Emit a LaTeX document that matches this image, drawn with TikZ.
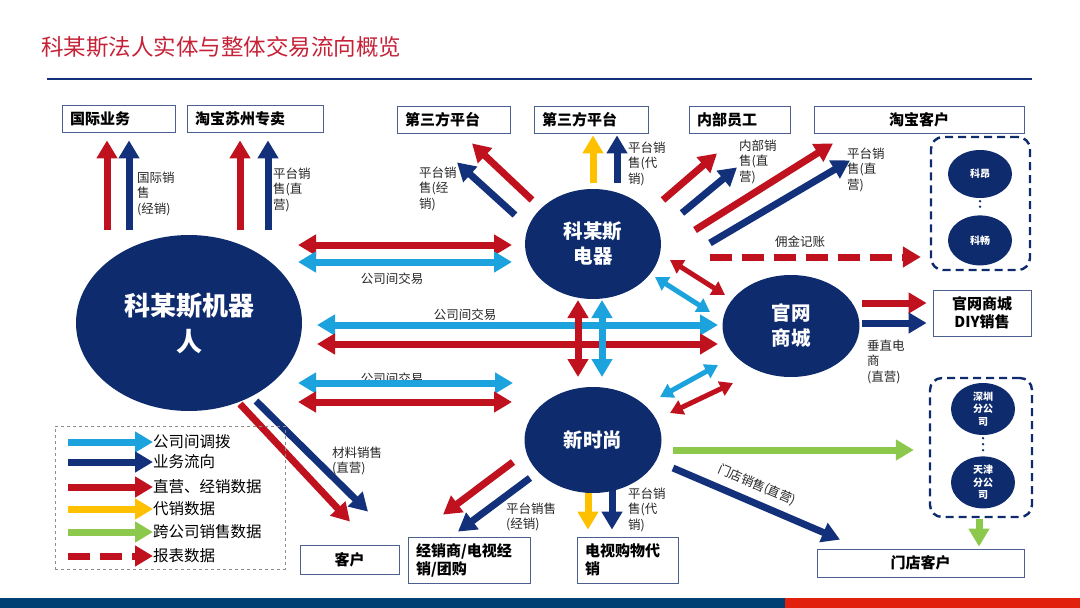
\documentclass[tikz,border=0pt]{standalone}
\usepackage{fontspec}
\setmainfont{Noto Sans CJK SC}
\usepackage{xcolor}
\usepackage{tikz}
\usetikzlibrary{positioning,arrows.meta,shapes.geometric,backgrounds}
\definecolor{rd}{HTML}{C0121E}
\definecolor{nv}{HTML}{13307A}
\definecolor{sk}{HTML}{1CA2DC}
\definecolor{yl}{HTML}{FFC000}
\definecolor{gn}{HTML}{8CC84B}
\definecolor{ell}{HTML}{0E2B6E}
\definecolor{bxc}{HTML}{4C5F8E}
\definecolor{ttl}{HTML}{C52238}
\definecolor{barb}{HTML}{003F72}
\definecolor{barr}{HTML}{E2200E}

\begin{document}
\begin{tikzpicture}[x=1pt,y=-1pt,>={Triangle[width=20pt,length=18pt]},font=\fontsize{12.5}{15.5}\selectfont]
\tikzstyle{bx}=[draw=bxc,line width=0.8pt,fill=white,minimum height=27pt,inner xsep=8pt,inner ysep=0pt,font=\bfseries\fontsize{15}{18}\selectfont,align=left]
\tikzstyle{org}=[ellipse,fill=ell,text=white,inner sep=0pt,align=center,font=\bfseries\fontsize{19.5}{25}\selectfont]
\tikzstyle{sub}=[ellipse,fill=ell,text=white,inner sep=0pt,align=center,minimum width=64pt,minimum height=50pt,font=\bfseries\fontsize{10}{12.5}\selectfont]
\tikzstyle{grp}=[draw=ell,line width=2.4pt,dash pattern=on 8pt off 5pt,rounded corners=12pt,inner sep=0pt]
\tikzstyle{lbl}=[anchor=north west,inner sep=0pt,align=left,text=black!85]
\tikzstyle{fat}=[line width=7pt,->]
\tikzstyle{dbl}=[line width=7pt,<->]
\tikzstyle{sdbl}=[line width=5pt,<->,>={Triangle[width=15pt,length=13pt]}]
\useasboundingbox (0,0) rectangle (1080,608);

\node[anchor=west,inner sep=0pt,text=ttl,font=\fontsize{22.5}{26}\selectfont] (title) at (41,47) {科某斯法人实体与整体交易流向概览};
\draw[nv,line width=1.6pt] (47,79) -- (1032,79);
\fill[barb] (0,598) rectangle (785,608);
\fill[barr] (785,598) rectangle (1080,608);

\node[bx,text width=97pt] (gjyw) at (118.5,118.5) {国际业务};
\node[bx,text width=120pt] (tbsz) at (255,118.5) {淘宝苏州专卖};
\node[bx,text width=97pt] (dsf1) at (453.5,119.5) {第三方平台};
\node[bx,text width=98pt] (dsf2) at (591,119.5) {第三方平台};
\node[bx,text width=85pt] (nbyg) at (739.5,119.5) {内部员工};
\node[bx,text width=194pt,align=center] (tbkh) at (919,119.5) {淘宝客户};
\node[bx,text width=82pt,align=center,minimum height=46pt] (diy) at (982,313) {官网商城\\DIY销售};
\node[bx,text width=83pt,align=center,minimum height=29pt] (kh) at (349.5,559.5) {客户};
\node[bx,text width=106pt,minimum height=46pt] (jxs) at (469,560) {经销商/电视经\\销/团购};
\node[bx,text width=85pt,minimum height=46pt] (dsgw) at (627.5,560) {电视购物代\\销};
\node[bx,text width=191pt,align=center,minimum height=28pt] (mdkh) at (920.5,563) {门店客户};

\node[org,minimum width=226pt,minimum height=176pt,font=\bfseries\fontsize{26}{36}\selectfont] (robot) at (189,323) {科某斯机器\\人};
\node[org,minimum width=136pt,minimum height=110pt] (dq) at (593,244) {科某斯\\电器};
\node[org,minimum width=137pt,minimum height=102pt] (gw) at (791,326) {官网\\商城};
\node[org,minimum width=137pt,minimum height=106pt] (xss) at (593,440) {新时尚};

\node[grp,minimum width=99pt,minimum height=133pt] (g1) at (980.5,203.5) {};
\node[grp,minimum width=102pt,minimum height=139pt] (g2) at (981,447.5) {};
\node[sub,minimum height=48pt] (ka) at (980,174) {科昂};
\node[sub,below=17pt of ka] (kc) {科畅};
\node[sub,minimum height=52pt] (sz) at (983,409) {深圳\\分公\\司};
\node[sub,minimum height=52pt,below=21pt of sz] (tj) {天津\\分公\\司};
\draw[ell,line width=2.6pt,line cap=round,dash pattern=on 0pt off 5.5pt] ([shift={(0,3)}]ka.south) -- ([shift={(0,-3)}]kc.north);
\draw[ell,line width=2.6pt,line cap=round,dash pattern=on 0pt off 6pt] ([shift={(0,3)}]sz.south) -- ([shift={(0,-3)}]tj.north);

\node[lbl] (lb1) at (137,171.5) {国际销\\售\\(经销)};
\node[lbl] (lb2) at (273,167.5) {平台销\\售(直\\营)};
\node[lbl] (lb3) at (419,166.5) {平台销\\售(经\\销)};
\node[lbl] (lb4) at (628,141.5) {平台销\\售(代\\销)};
\node[lbl] (lb5) at (739,139.5) {内部销\\售(直\\营)};
\node[lbl] (lb6) at (847,147.5) {平台销\\售(直\\营)};
\node[lbl,anchor=center] (lb7) at (800,242) {佣金记账};
\node[lbl,anchor=center] (lb9) at (392,279) {公司间交易};
\node[lbl,anchor=center] (lb10) at (465,315) {公司间交易};
\node[lbl] (lb14) at (867,339.5) {垂直电\\商\\(直营)};
\node[lbl] (lb15) at (332,446.5) {材料销售\\(直营)};
\node[lbl] (lb16) at (506,502.5) {平台销售\\(经销)};
\node[lbl] (lb17) at (628,487.5) {平台销\\售(代\\销)};
\node[lbl,anchor=center,rotate=-23] (lb18) at (757,485) {门店销售(直营)};

\node[draw=black!45,dashed,line width=0.6pt,minimum width=230pt,minimum height=143pt] (leg) at (170,497.5) {};
\node[anchor=west,inner sep=0pt,font=\fontsize{15.5}{18}\selectfont] (lg1) at (153,442) {公司间调拨};
\node[anchor=west,inner sep=0pt,font=\fontsize{15.5}{18}\selectfont] (lg2) at (153,462) {业务流向};
\node[anchor=west,inner sep=0pt,font=\fontsize{15.5}{18}\selectfont] (lg3) at (153,487) {直营、经销数据};
\node[anchor=west,inner sep=0pt,font=\fontsize{15.5}{18}\selectfont] (lg4) at (153,509) {代销数据};
\node[anchor=west,inner sep=0pt,font=\fontsize{15.5}{18}\selectfont] (lg5) at (153,532) {跨公司销售数据};
\node[anchor=west,inner sep=0pt,font=\fontsize{15.5}{18}\selectfont] (lg6) at (153,556) {报表数据};
\draw[fat,sk] ([shift={(-85,0)}]lg1.west) -- (lg1.west);
\draw[fat,nv] ([shift={(-85,0)}]lg2.west) -- (lg2.west);
\draw[fat,rd] ([shift={(-85,0)}]lg3.west) -- (lg3.west);
\draw[fat,yl] ([shift={(-85,0)}]lg4.west) -- (lg4.west);
\draw[fat,gn] ([shift={(-85,0)}]lg5.west) -- (lg5.west);
\draw[fat,rd,dash pattern=on 22pt off 10pt] ([shift={(-85,0)}]lg6.west) -- (lg6.west);

\begin{scope}[on background layer]
\node[lbl,anchor=center] (lb11) at (392,379) {公司间交易};
\draw[fat,rd] ([shift={(-11.5,98)}]gjyw.south) -- ([shift={(-11.5,8)}]gjyw.south);
\draw[fat,nv] ([shift={(10.5,98)}]gjyw.south) -- ([shift={(10.5,8)}]gjyw.south);
\draw[fat,rd] ([shift={(-15,98)}]tbsz.south) -- ([shift={(-15,8)}]tbsz.south);
\draw[fat,nv] ([shift={(13,98)}]tbsz.south) -- ([shift={(13,8)}]tbsz.south);
\draw[fat,rd] ([shift={(-61,-44)}]dq.center) -- ([shift={(18.5,10)}]dsf1.south);
\draw[fat,nv] ([shift={(-78,-29)}]dq.center) -- ([shift={(3.5,29)}]dsf1.south);
\draw[fat,yl] ([shift={(2,50)}]dsf2.south) -- ([shift={(2,2)}]dsf2.south);
\draw[fat,nv] ([shift={(26,50)}]dsf2.south) -- ([shift={(26,2)}]dsf2.south);
\draw[fat,rd] ([shift={(70,-44)}]dq.center) -- ([shift={(-22.5,20)}]nbyg.south);
\draw[fat,nv] ([shift={(89,-31)}]dq.center) -- ([shift={(-2.5,34)}]nbyg.south);
\draw[fat,rd] ([shift={(102,-14)}]dq.center) -- ([shift={(-86,10)}]tbkh.south);
\draw[fat,nv] ([shift={(117,-1)}]dq.center) -- ([shift={(-69,27)}]tbkh.south);
\draw[fat,rd,dash pattern=on 22pt off 10pt] ([shift={(117,13)}]dq.center) -- ([shift={(-9,53.5)}]g1.west);
\draw[sdbl,rd] ([shift={(77,16)}]dq.center) -- ([shift={(-66,-31)}]gw.center);
\draw[sdbl,sk] ([shift={(62,33)}]dq.center) -- ([shift={(-81,-14)}]gw.center);
\draw[dbl,rd] ([shift={(109,-78)}]robot.center) -- ([shift={(-81,1)}]dq.center);
\draw[dbl,sk] ([shift={(109,-61)}]robot.center) -- ([shift={(-81,18)}]dq.center);
\draw[dbl,sk] ([shift={(128,2)}]robot.center) -- ([shift={(-73,-1)}]gw.center);
\draw[dbl,rd] ([shift={(128,21)}]robot.center) -- ([shift={(-73,18)}]gw.center);
\draw[dbl,sk] ([shift={(109,60)}]robot.center) -- ([shift={(-80,-57)}]xss.center);
\draw[dbl,rd] ([shift={(109,79)}]robot.center) -- ([shift={(-81,-38)}]xss.center);
\draw[dbl,rd] ([shift={(-15,56)}]dq.center) -- ([shift={(-15,-63)}]xss.center);
\draw[dbl,sk] ([shift={(9,56)}]dq.center) -- ([shift={(9,-63)}]xss.center);
\draw[sdbl,sk] ([shift={(67,-43)}]xss.center) -- ([shift={(-73,39)}]gw.center);
\draw[sdbl,rd] ([shift={(77,-27)}]xss.center) -- ([shift={(-58,57)}]gw.center);
\draw[fat,rd] ([shift={(71,-23)}]gw.center) -- ([shift={(-6,-10)}]diy.west);
\draw[fat,nv] ([shift={(71,-3)}]gw.center) -- ([shift={(-6,10)}]diy.west);
\draw[fat,rd] ([shift={(51,81)}]robot.center) -- ([shift={(0.5,-23)}]kh.north);
\draw[fat,nv] ([shift={(67,78)}]robot.center) -- ([shift={(18.5,-33)}]kh.north);
\draw[fat,rd] ([shift={(-80,22)}]xss.center) -- ([shift={(-26,-22)}]jxs.north);
\draw[fat,nv] ([shift={(-63,38)}]xss.center) -- ([shift={(-11,-5)}]jxs.north);
\draw[fat,yl] ([shift={(-5,50)}]xss.center) -- ([shift={(-39.5,-7)}]dsgw.north);
\draw[fat,nv] ([shift={(19,50)}]xss.center) -- ([shift={(-15.5,-7)}]dsgw.north);
\draw[fat,nv] ([shift={(80,28)}]xss.center) -- ([shift={(-80.5,-9)}]mdkh.north);
\draw[fat,gn] ([shift={(80,10)}]xss.center) -- ([shift={(-15,2.5)}]g2.west);
\draw[fat,gn] ([shift={(-2,1)}]g2.south) -- ([shift={(58.5,-2)}]mdkh.north);
\end{scope}
\end{tikzpicture}
\end{document}
